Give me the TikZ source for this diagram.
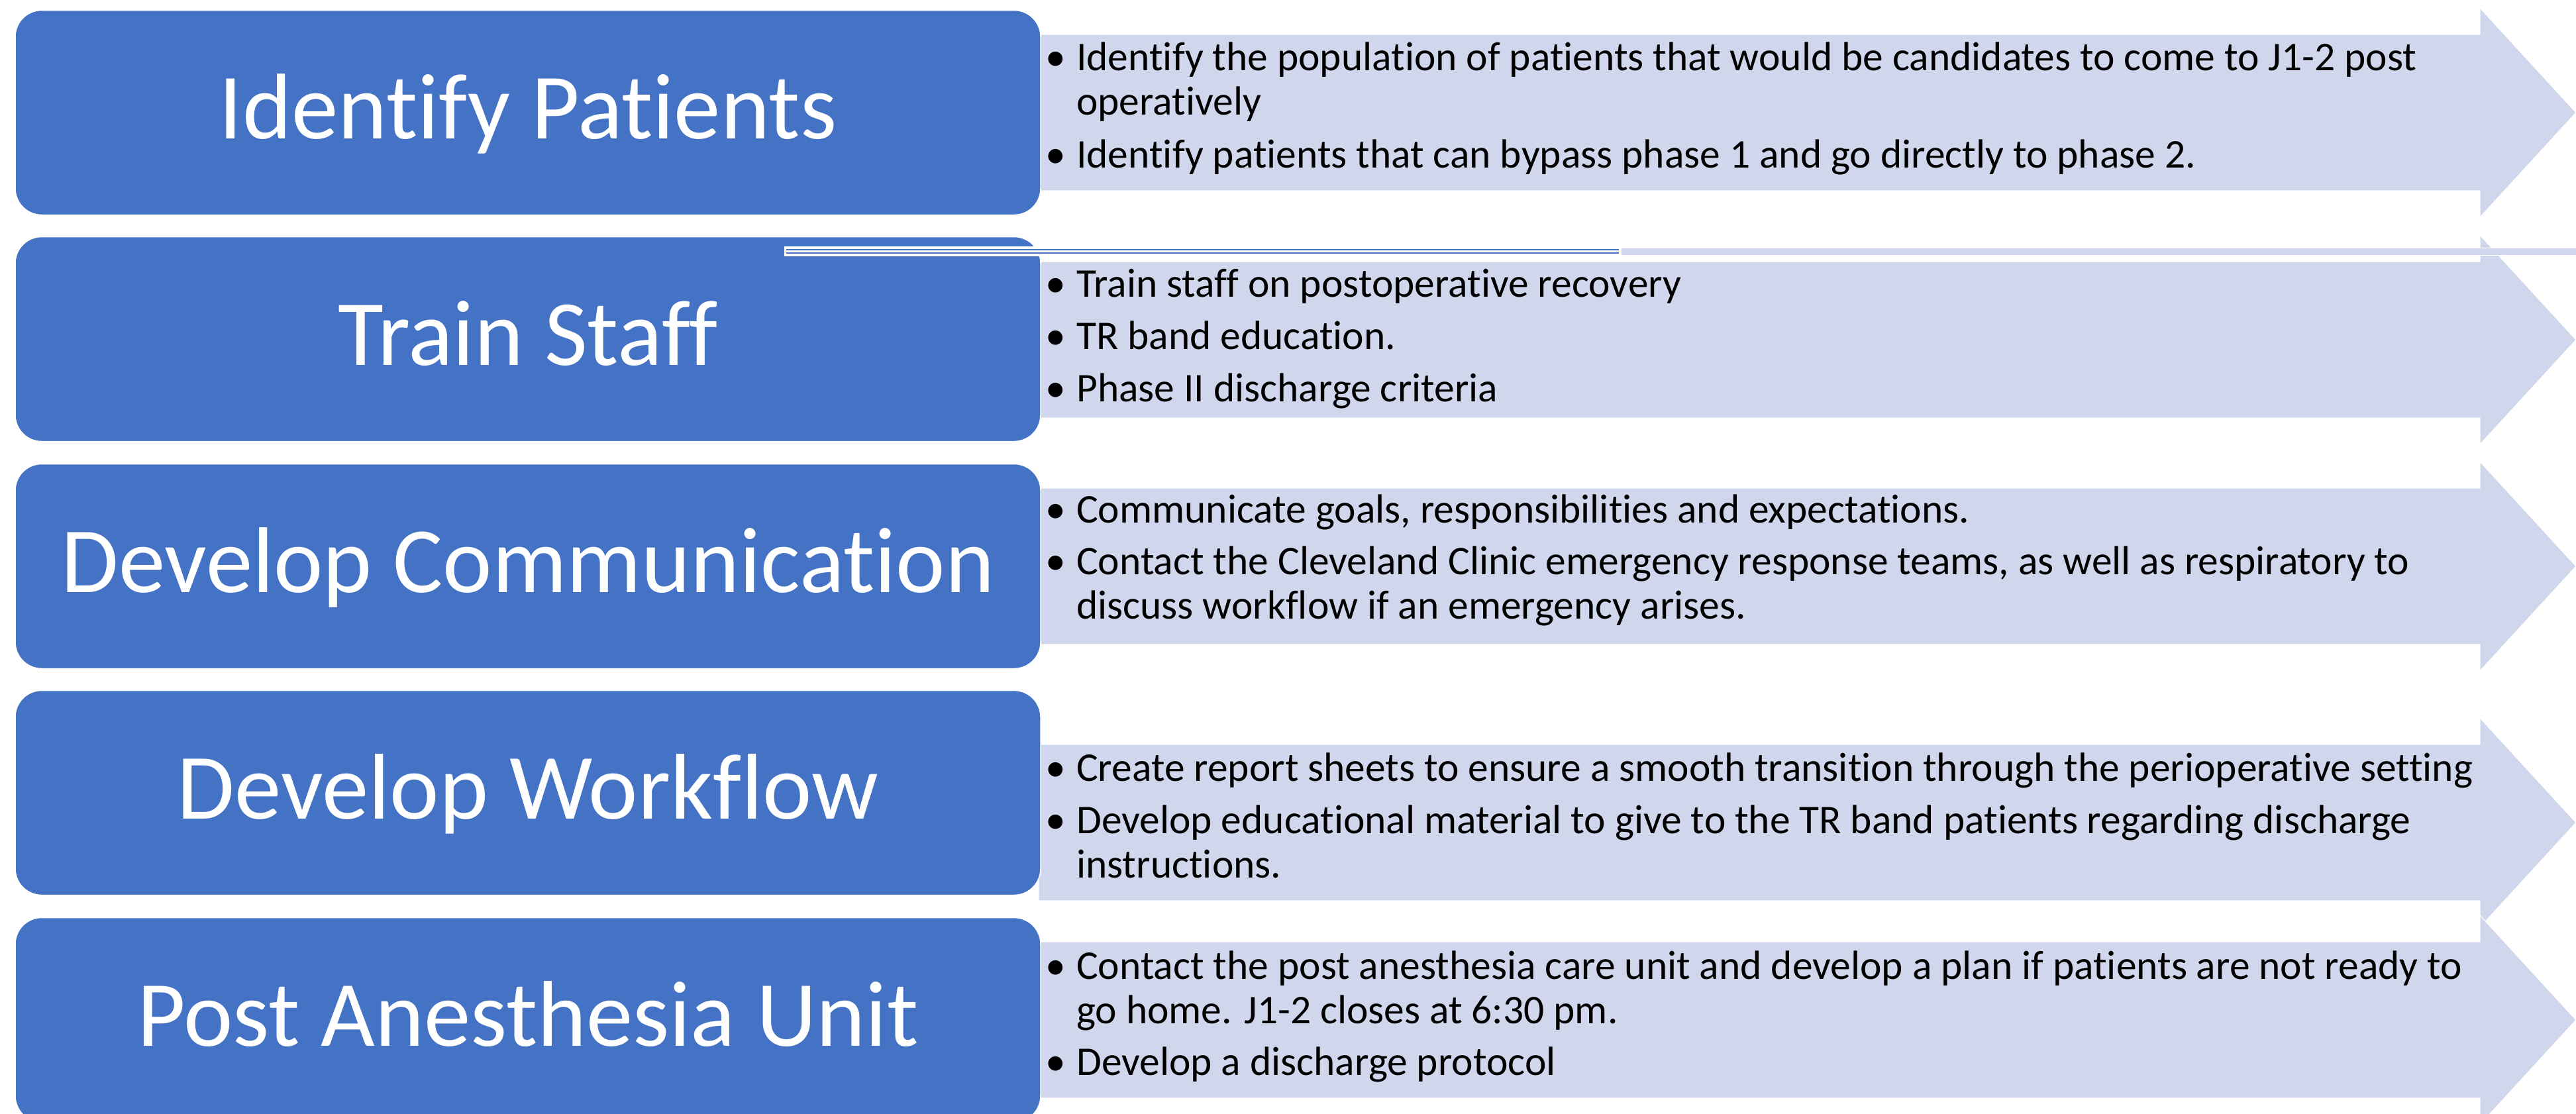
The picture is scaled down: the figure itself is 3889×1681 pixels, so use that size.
\documentclass[tikz,border=0pt]{standalone}
\usepackage{fontspec}
\setmainfont{Carlito}[Ligatures=NoCommon]
\definecolor{boxblue}{RGB}{68,114,196}
\definecolor{arrowfill}{RGB}{208,214,235}
\newcommand\bulmark{\makebox[47pt][l]{•}}
\newcommand\bulind{\hspace*{47pt}}
\begin{document}
\begin{tikzpicture}[x=1pt,y=-1pt,
  titlebox/.style={fill=boxblue, draw=white, line width=1.5pt, rounded corners=40pt,
    minimum width=1548pt, minimum height=309pt, inner sep=0pt},
  titletext/.style={text=white, font=\fontsize{141}{168}\selectfont, anchor=base, inner sep=0pt},
  bullettext/.style={font=\fontsize{61.5}{67}\selectfont, anchor=base west, align=left, inner sep=0pt},
  arrowshape/.style={fill=arrowfill, draw=white, line width=1.2pt}]
\useasboundingbox (0,0) rectangle (3889,1681);
\fill[white] (0,0) rectangle (3889,1681);
% arrows
\foreach \c in {170,513,855,1242,1540}{
  \filldraw[arrowshape] (1568,\c-118) -- (3744,\c-118) -- (3744,\c-158) -- (3889,\c)
    -- (3744,\c+158) -- (3744,\c+118) -- (1568,\c+118) -- cycle;
}
% boxes
\node[titlebox] (b1) at (797,170) {};
\node[titlebox] (b2) at (797,512) {};
\node[titlebox] (b3) at (797,855) {};
\node[titlebox] (b4) at (797,1197) {};
\node[titlebox] (b5) at (797,1540) {};
\node[titletext] (t1) at (797,209) {Identify Patients};
\node[titletext] (t2) at (797,551) {Train Staff};
\node[titletext] (t3) at (797,894) {Develop Communication};
\node[titletext] (t4) at (797,1236) {Develop Workflow};
\node[titletext] (t5) at (797,1579) {Post Anesthesia Unit};
% bullet texts (anchor = baseline of last line)
\node[bullettext] (p1) at (1578,253) {\bulmark Identify the population of patients that would be candidates to come to J1-2 post\\
\bulind operatively\\[13pt]
\bulmark Identify patients that can bypass phase 1 and go directly to phase 2.};
\node[bullettext] (p2) at (1578,606) {\bulmark Train staff on postoperative recovery\\[12pt]
\bulmark TR band education.\\[12pt]
\bulmark Phase II discharge criteria};
\node[bullettext] (p3) at (1578,934) {\bulmark Communicate goals, responsibilities and expectations.\\[11pt]
\bulmark Contact the Cleveland Clinic emergency response teams, as well as respiratory to\\
\bulind discuss workflow if an emergency arises.};
\node[bullettext] (p4) at (1578,1325) {\bulmark Create report sheets to ensure a smooth transition through the perioperative setting\\[12pt]
\bulmark Develop educational material to give to the TR band patients regarding discharge\\
\bulind instructions.};
\node[bullettext] (p5) at (1578,1623) {\bulmark Contact the post anesthesia care unit and develop a plan if patients are not ready to\\
\bulind go home. J1-2 closes at 6:30 pm.\\[11pt]
\bulmark Develop a discharge protocol};
% stray thin shapes
\fill[white] (1184,372) rectangle (2447,387);
\draw[boxblue, line width=2pt] (1187,377) -- (2444,377);
\draw[boxblue, line width=2pt] (1187,382) -- (2444,382);
\filldraw[fill=arrowfill, draw=white, line width=1pt] (2447,374) rectangle (3895,385);
\end{tikzpicture}
\end{document}
